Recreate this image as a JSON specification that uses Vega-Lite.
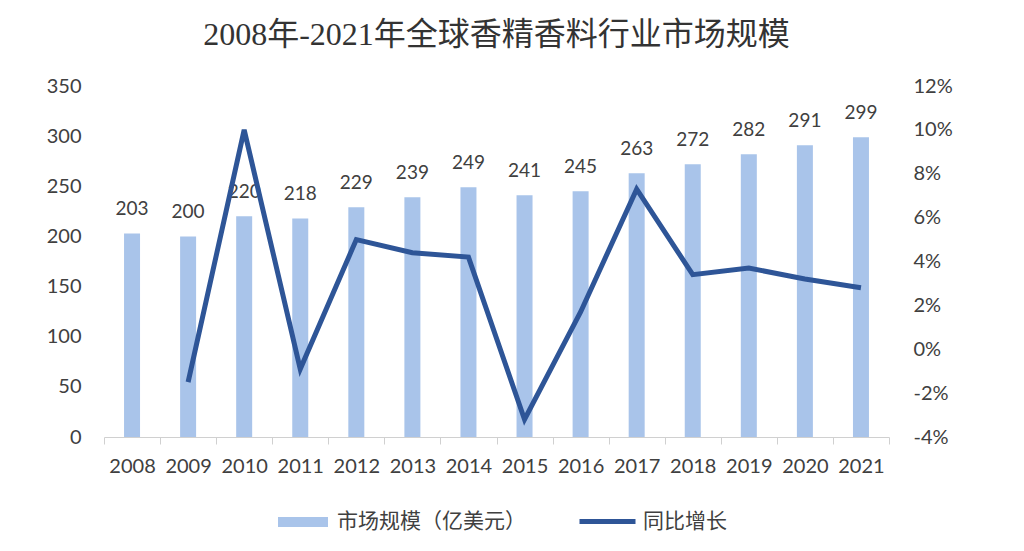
{
  "$schema": "https://vega.github.io/schema/vega-lite/v6.json",
  "width": 785,
  "height": 351,
  "autosize": {"type": "none"},
  "padding": {"left": 104, "top": 86, "right": 135, "bottom": 114},
  "background": "white",
  "title": {
    "text": "2008年-2021年全球香精香料行业市场规模",
    "font": "Liberation Serif, Noto Sans CJK SC",
    "fontSize": 32,
    "fontWeight": "normal",
    "color": "#333333",
    "anchor": "middle",
    "offset": 24
  },
  "config": {"view": {"stroke": null}, "font": "Lato"},
  "data": {
    "values": [
      {"year": 2008, "value": 203, "growth": null},
      {"year": 2009, "value": 200, "growth": -0.015},
      {"year": 2010, "value": 220, "growth": 0.100},
      {"year": 2011, "value": 218, "growth": -0.009},
      {"year": 2012, "value": 229, "growth": 0.050},
      {"year": 2013, "value": 239, "growth": 0.044},
      {"year": 2014, "value": 249, "growth": 0.042},
      {"year": 2015, "value": 241, "growth": -0.032},
      {"year": 2016, "value": 245, "growth": 0.017},
      {"year": 2017, "value": 263, "growth": 0.073},
      {"year": 2018, "value": 272, "growth": 0.034},
      {"year": 2019, "value": 282, "growth": 0.037},
      {"year": 2020, "value": 291, "growth": 0.032},
      {"year": 2021, "value": 299, "growth": 0.028}
    ]
  },
  "encoding": {
    "x": {
      "field": "year",
      "type": "ordinal",
      "scale": {"paddingInner": 0, "paddingOuter": 0},
      "axis": {
        "title": null,
        "labelAngle": 0,
        "labelFont": "Lato",
        "labelFontSize": 20,
        "labelColor": "#404040",
        "domainColor": "#d0d0d0",
        "tickColor": "#d0d0d0",
        "tickBand": "extent",
        "tickSize": 7,
        "labelPadding": 12
      }
    }
  },
  "layer": [
    {
      "encoding": {
        "y": {
          "field": "value",
          "type": "quantitative",
          "scale": {"domain": [0, 350]},
          "axis": {
            "title": null,
            "values": [0, 50, 100, 150, 200, 250, 300, 350],
            "grid": false,
            "domain": false,
            "ticks": false,
            "labelFont": "Lato",
            "labelFontSize": 20,
            "labelColor": "#404040",
            "labelPadding": 23
          }
        }
      },
      "layer": [
        {
          "mark": {"type": "bar", "size": 16},
          "encoding": {
            "fill": {
              "datum": "市场规模（亿美元）",
              "type": "nominal",
              "scale": {"range": ["#a9c4ea"]},
              "legend": {
                "title": null,
                "orient": "none",
                "legendX": 174,
                "legendY": 411,
                "padding": 0,
                "symbolType": "M-1,-0.2H1V0.2H-1Z",
                "symbolSize": 2500,
                "symbolStrokeWidth": 0,
                "labelFont": "Noto Sans CJK SC",
                "labelFontSize": 21,
                "labelColor": "#404040",
                "labelOffset": 9,
                "labelLimit": 0
              }
            }
          }
        },
        {
          "mark": {"type": "text", "baseline": "alphabetic", "dy": -18, "font": "Lato", "fontSize": 19, "color": "#404040"},
          "encoding": {"text": {"field": "value", "type": "quantitative"}}
        }
      ]
    },
    {
      "transform": [{"filter": "datum.growth != null"}],
      "mark": {"type": "line", "strokeWidth": 5, "strokeJoin": "miter", "strokeCap": "butt"},
      "encoding": {
        "y": {
          "field": "growth",
          "type": "quantitative",
          "scale": {"domain": [-0.04, 0.12]},
          "axis": {
            "orient": "right",
            "title": null,
            "values": [-0.04, -0.02, 0, 0.02, 0.04, 0.06, 0.08, 0.10, 0.12],
            "labelExpr": "replace(format(datum.value, '.0%'), '\u2212', '-')",
            "grid": false,
            "domain": false,
            "ticks": false,
            "labelFont": "Lato",
            "labelFontSize": 20,
            "labelColor": "#404040",
            "labelPadding": 24
          }
        },
        "stroke": {
          "datum": "同比增长",
          "type": "nominal",
          "scale": {"range": ["#2e5597"]},
          "legend": {
            "title": null,
            "orient": "none",
            "legendX": 473,
            "legendY": 405,
            "padding": 0,
            "symbolType": "stroke",
            "symbolSize": 3136,
            "symbolStrokeWidth": 5,
            "labelFont": "Noto Sans CJK SC",
            "labelFontSize": 21,
            "labelColor": "#404040",
            "labelOffset": 5,
            "labelLimit": 0
          }
        }
      }
    }
  ],
  "resolve": {"scale": {"y": "independent"}}
}
